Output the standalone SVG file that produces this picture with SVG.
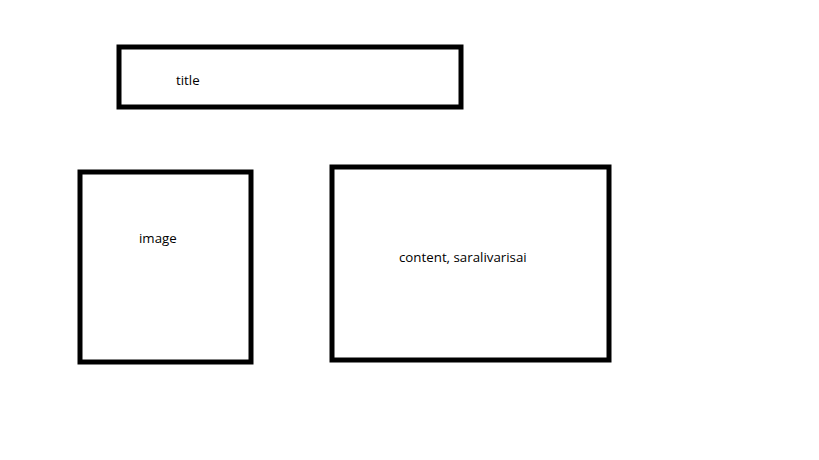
<svg xmlns="http://www.w3.org/2000/svg" width="819" height="460" viewBox="0 0 819 460">
<style>
.box{fill:#fff;stroke:#000;stroke-width:5}
.lbl{font-family:"Open Sans","Noto Sans",sans-serif;font-size:13.3px;fill:#000}
</style>
<rect x="0" y="0" width="819" height="460" fill="#fff"/>
<g id="title">
<rect class="box" x="119" y="47" width="342" height="60"/>
<text class="lbl" x="176" y="85">title</text>
</g>
<g id="image">
<rect class="box" x="80" y="172" width="171" height="190"/>
<text class="lbl" x="139" y="243">image</text>
</g>
<g id="content">
<rect class="box" x="332" y="167" width="277" height="193"/>
<text class="lbl" x="399" y="262">content, saralivarisai</text>
</g>
<g id="connectors"></g>
</svg>
